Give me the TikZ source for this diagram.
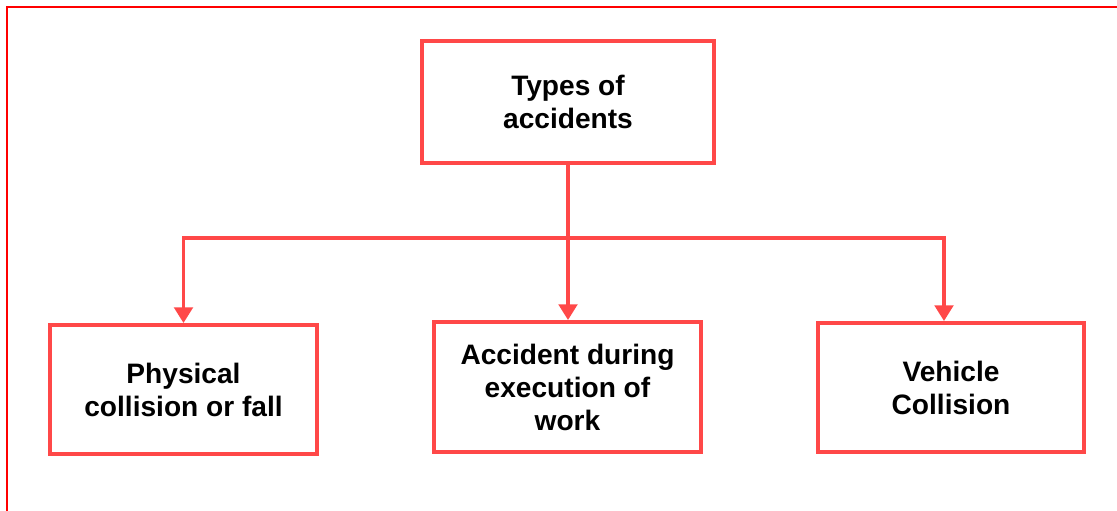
\documentclass[tikz,border=0pt]{standalone}
\usepackage{fontspec}
\setmainfont{Liberation Sans}
\usetikzlibrary{arrows.meta}
\definecolor{boxred}{RGB}{255,72,72}
\tikzset{
    kind/.style={draw=boxred, line width=2.2pt, align=center, font=\bfseries\fontsize{16}{18.8}\selectfont, inner sep=0pt},
    conn/.style={draw=boxred, line width=2.2pt},
    tip/.style={-{Triangle[length=9pt,width=10.5pt]}}
}
\begin{document}
\begin{tikzpicture}[x=0.02cm, y=-0.02cm]
    \useasboundingbox (0,0) rectangle (1117,511);
    % frame
    \draw[red, line width=1.3pt] (7,511) -- (7,7) -- (1117,7);
    % boxes
    \node[kind, minimum width=5.84cm, minimum height=2.44cm] (types) at (568,102) {Types of\\accidents};
    \node[kind, minimum width=5.34cm, minimum height=2.58cm] (fall) at (183.5,389.5) {Physical\\collision or fall};
    \node[kind, minimum width=5.34cm, minimum height=2.6cm] (work) at (567.5,387) {Accident during\\execution of\\work};
    \node[kind, minimum width=5.32cm, minimum height=2.58cm] (vehicle) at (951,387.5) {Vehicle\\Collision};
    % connectors
    \coordinate (split) at (568,238);
    \draw[conn] (types.south) -- (split);
    \draw[conn, tip] (split) -| (fall.north);
    \draw[conn, tip] (split) -- (split |- work.north);
    \draw[conn, tip] (split) -| ([xshift=-0.14cm]vehicle.north);
\end{tikzpicture}
\end{document}
